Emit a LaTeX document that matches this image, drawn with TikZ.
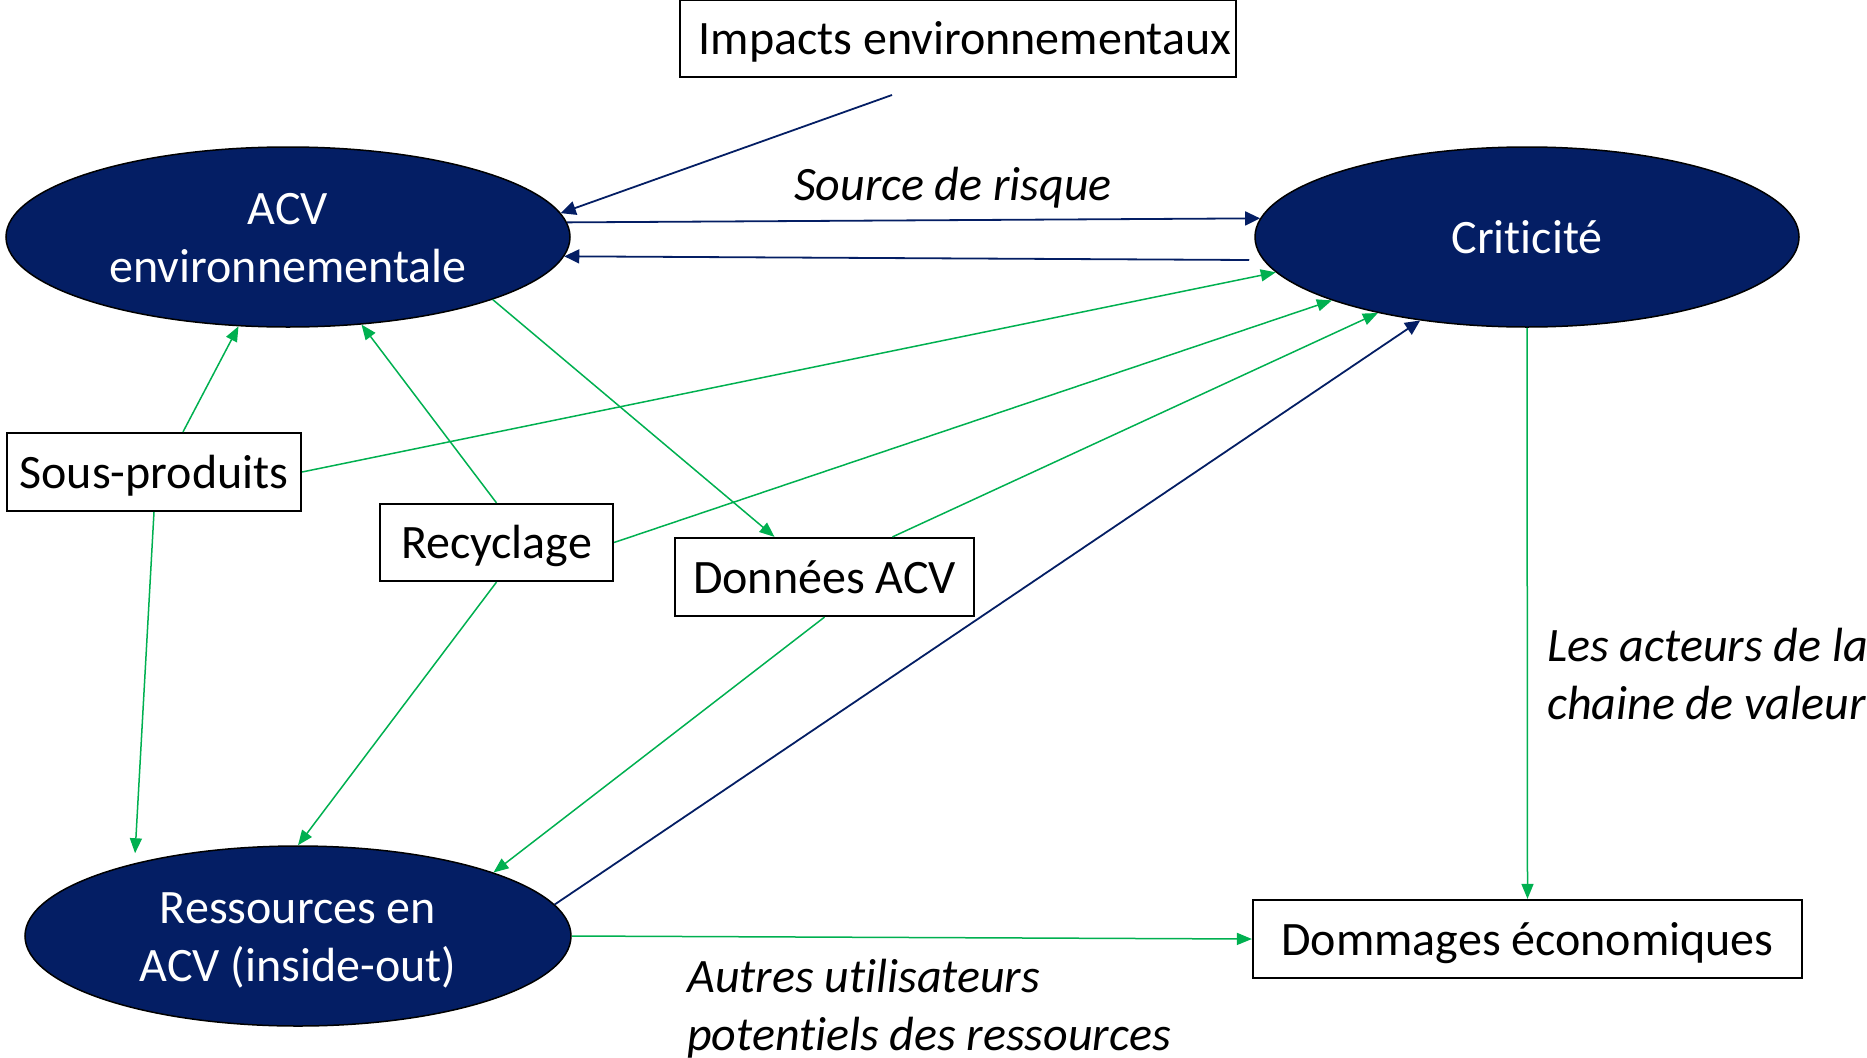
\documentclass[tikz,border=0pt]{standalone}
\usepackage{fontspec}
\setmainfont{Carlito}[Ligatures={NoCommon,NoContextual,NoRare},RawFeature=-calt]
\usetikzlibrary{shapes.geometric,arrows.meta}
\definecolor{navy}{HTML}{041E64}
\definecolor{leaf}{HTML}{00B050}

\begin{document}
\begin{tikzpicture}[x=1pt,y=-1pt,
  font=\fontsize{48}{58}\selectfont,
  hub/.style={ellipse, draw=black, line width=1.5pt, fill=navy, inner sep=0pt},
  hubtext/.style={text=white, align=center, inner sep=0pt},
  tag/.style={draw=black, line width=2.2pt, fill=white, inner sep=0pt, align=center, text height=42pt, text depth=10pt},
  nv/.style={draw=navy, line width=1.8pt, -{Triangle[length=15pt,width=14pt]}},
  gr/.style={draw=leaf, line width=1.5pt, -{Triangle[length=15pt,width=12pt]}},
  note/.style={font=\fontsize{48}{58}\selectfont\itshape, align=left, inner sep=0pt}
]
\useasboundingbox (0,0) rectangle (1867,1057);

% main concepts
\node[hub, minimum width=564pt, minimum height=180pt] (acv)  at (288,237) {};
\node[hub, minimum width=544pt, minimum height=180pt] (crit) at (1527,237) {};
\node[hub, minimum width=546pt, minimum height=180pt] (ress) at (298,936) {};
\node[hubtext] (acvtxt)  at ([yshift=-1pt]acv.center) {ACV\\environnementale};
\node[hubtext] (crittxt) at (crit.center) {Criticité};
\node[hubtext] (resstxt) at ([yshift=-4pt]ress.center) {Ressources en\\ACV (inside-out)};

% boxes
\node[tag, minimum width=556pt, minimum height=77pt] (imp) at (958,38.5) {\hspace*{14pt}Impacts environnementaux};
\node[tag, minimum width=294pt, minimum height=78pt] (sp)  at (154,472) {Sous-produits};
\node[tag, minimum width=233pt, minimum height=77pt] (rec) at (496.5,542.5) {Recyclage};
\node[tag, minimum width=299pt, minimum height=78pt] (don) at (824.5,577) {Données ACV};
\node[tag, minimum width=549pt, minimum height=78pt] (dom) at (1527.5,939) {Dommages économiques};

% edge labels
\node[note] (src) at (953,188) {Source de risque};
\node[note, anchor=west] (act) at (1547,674) {Les acteurs de la\\chaine de valeur};
\node[note, anchor=west] (aut) at (687,1009) {Autres utilisateurs\\potentiels des ressources};

% navy links
\coordinate (impfoot) at (892,95);
\draw[nv] (impfoot) -- (acv.5.5);
\draw[nv] (acv.3.4) -- (crit.176.4);
\draw[nv, shorten <=14pt] (crit.185) -- (acv.-4);
\draw[nv] (ress.7.8) -- (crit.218.6);

% green links
\draw[gr] ([xshift=29pt]sp.north) -- (acv.-119.1);
\draw[gr] (rec.north) -- (acv.-50);
\draw[gr] (acv.-17.9) -- ([xshift=-50pt]don.north);
\draw[gr] (sp.east) -- (crit.188.2);
\draw[gr] (rec.east) -- (crit.198.7);
\draw[gr] ([xshift=68pt]don.north) -- (crit.207.8);
\draw[gr, shorten >=10pt] (sp.south) -- (ress.156.8);
\draw[gr] (rec.south) -- (ress.north);
\draw[gr] (don.south) -- (ress.18.3);
\draw[gr] (crit.south) -- (dom.north);
\draw[gr] (ress.east) -- (dom.west);
\end{tikzpicture}
\end{document}
